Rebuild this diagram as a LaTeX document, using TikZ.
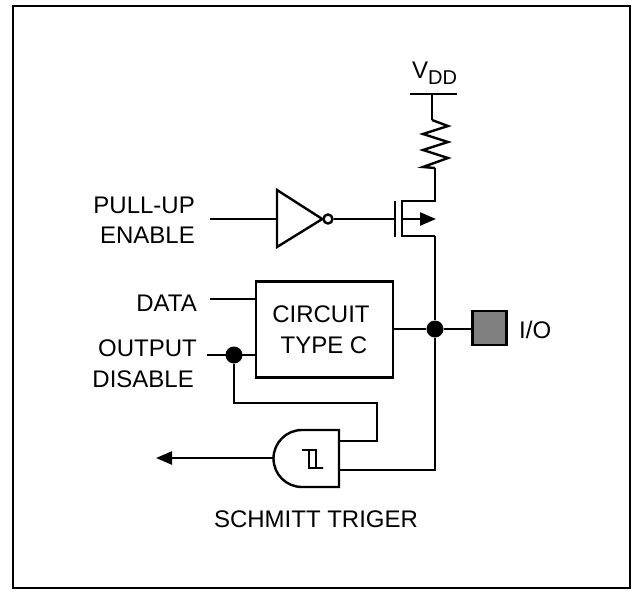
\documentclass[tikz,border=0pt]{standalone}
\usepackage{fontspec}
\setmainfont{Liberation Sans}
\usetikzlibrary{positioning, arrows.meta}
\definecolor{padGray}{HTML}{808080}
\tikzstyle{wire}=[line width=2.4pt, line join=miter]
\tikzstyle{wireArrow}=[wire, -{Triangle[length=16pt, width=13pt]}]
\tikzstyle{junction}=[fill=black, circle, minimum size=17pt, inner sep=0pt]
\tikzstyle{bubble}=[draw, wire, fill=white, circle, minimum size=9pt, inner sep=0pt]
\tikzstyle{label}=[font=\fontsize{24}{31}\selectfont, inner sep=0pt, align=center]

\begin{document}
\begin{tikzpicture}[x=1pt, y=-1pt]
  \useasboundingbox (0, 0) rectangle (637, 590);

  % frame
  \node[draw, line width=2pt, minimum width=617pt, minimum height=582pt, inner sep=0pt] (frame) at (321.5, 297) {};

  % supply and pull-up
  \node[label, anchor=base west] (vdd) at (412, 78) {V\raisebox{-6pt}{\fontsize{20}{24}\selectfont DD}};
  \coordinate (railL) at (410, 94);
  \coordinate (railR) at (457, 94);
  \coordinate (railM) at (432, 94);
  \coordinate (resTop) at (432, 120);
  \coordinate (resEnd) at (435, 168);
  \draw[wire] (railL) -- (railR);
  \draw[wire] (railM) -- (resTop);
  \draw[wire] (resTop) -- (448, 126) -- (423, 134) -- (448, 142) -- (423, 150)
    -- (448, 158) -- (423, 167) -- (resEnd);

  % transistor
  \coordinate (drain) at (435, 201);
  \coordinate (source) at (435, 236);
  \coordinate (chanTop) at (402, 201);
  \coordinate (chanBot) at (402, 236);
  \coordinate (chanMid) at (402, 219);
  \coordinate (body) at (436, 219);
  \coordinate (gateTop) at (395, 201);
  \coordinate (gateBot) at (395, 237);
  \coordinate (gateMid) at (395, 219);
  \draw[wire] (resEnd) -- (drain) -- (chanTop) -- (chanBot) -- (source);
  \draw[wire] (gateTop) -- (gateBot);
  \draw[wireArrow] (chanMid) -- (body);

  % inverter
  \coordinate (invIn) at (277, 219);
  \coordinate (pullIn) at (210, 219);
  \node[bubble] (invOut) at (328, 219) {};
  \draw[wire] (277, 190) -- (invOut.west) -- (277, 247) -- cycle;
  \draw[wire] (pullIn) -- (invIn);
  \draw[wire] (invOut) -- (gateMid);
  \node[label, anchor=base east] (pullup) at (195, 213) {PULL-UP};
  \node[label, anchor=base east] (enable) at (195, 243) {ENABLE};

  % circuit block
  \node[draw, wire, minimum width=137pt, minimum height=96pt, inner sep=0pt] (ckt) at (324.5, 329.5) {};
  \node[label, anchor=base] (cktA) at (321, 322) {CIRCUIT};
  \node[label, anchor=base] (cktB) at (324, 353) {TYPE C};
  \node[label, anchor=base east] (data) at (197, 311) {DATA};
  \node[label, anchor=base east] (output) at (197, 356) {OUTPUT};
  \node[label, anchor=base east] (disable) at (194, 387) {DISABLE};
  \coordinate (dataIn) at (210, 299);
  \coordinate (dataEnd) at (256, 299);
  \coordinate (disIn) at (207, 355);
  \coordinate (disEnd) at (256, 355);
  \draw[wire] (dataIn) -- (dataEnd);
  \draw[wire] (disIn) -- (disEnd);
  \node[junction] (disDot) at (234, 355) {};

  % pad
  \node[junction] (ioDot) at (435, 329) {};
  \node[draw, wire, fill=padGray, minimum size=34pt, inner sep=0pt] (pad) at (489.5, 328) {};
  \node[label, anchor=base west] (io) at (519, 338) {I/O};
  \coordinate (cktOut) at (393, 329);
  \draw[wire] (cktOut) -- (ioDot);
  \draw[wire] (ioDot) -- (pad.west |- ioDot);

  % schmitt trigger gate
  \coordinate (inA) at (339, 441);
  \coordinate (inB) at (339, 470);
  \coordinate (gateOut) at (274, 458);
  \coordinate (arrowEnd) at (156, 458);
  \draw[wire] (339, 430) -- (302, 430) arc[start angle=270, end angle=90, radius=28.5] -- (339, 487) -- cycle;
  \draw[wire, line width=2pt] (302, 450) -- (316, 450) -- (316, 468) -- (323, 468) -- (309, 468) -- (309, 450);
  \draw[wire] (disDot) |- (377, 403) |- (inA);
  \draw[wire] (source) -- (ioDot);
  \draw[wire] (ioDot) |- (inB);
  \draw[wireArrow] (gateOut) -- (arrowEnd);
  \node[label, anchor=base] (schmitt) at (316, 527) {SCHMITT TRIGER};
\end{tikzpicture}
\end{document}
